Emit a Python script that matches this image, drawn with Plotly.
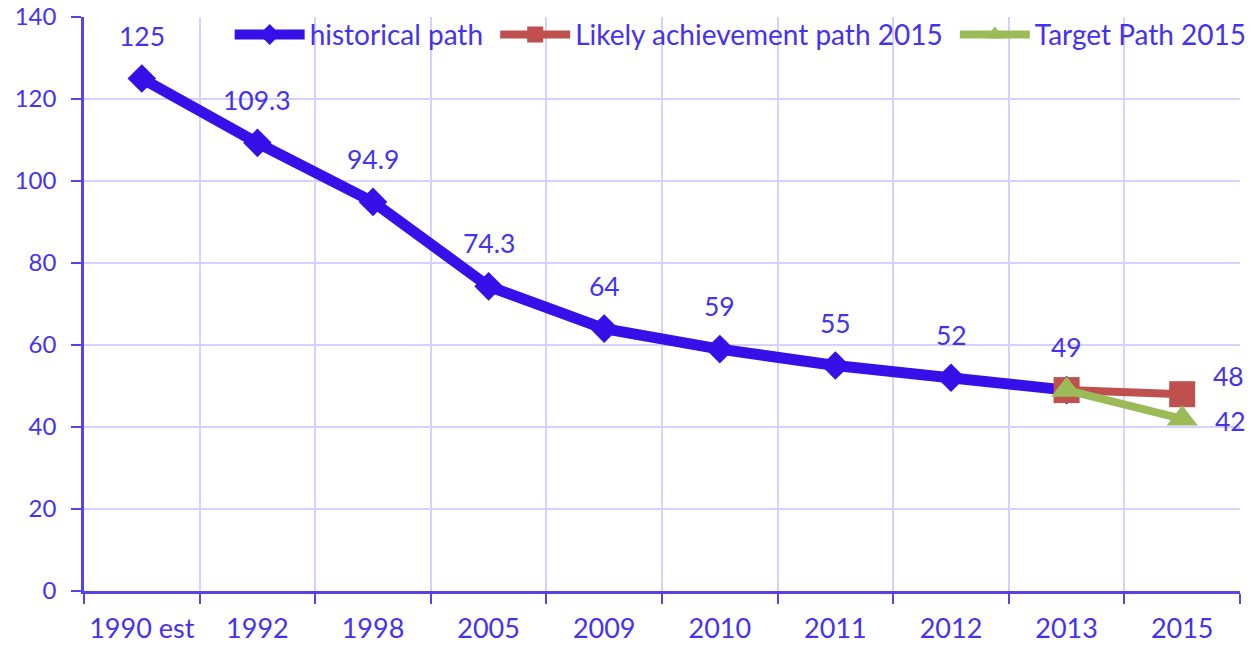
import plotly.graph_objects as go

# categories and series values
years = ["1990 est", "1992", "1998", "2005", "2009", "2010", "2011", "2012", "2013", "2015"]
historical = [125, 109.3, 94.9, 74.3, 64, 59, 55, 52, 49]
likely_years = ["2013", "2015"]
likely = [49, 48]
target_years = ["2013", "2015"]
target = [49, 42]

blue = "#3510E8"
text_blue = "#4433EE"
red = "#C0504D"
green = "#9BBB59"
grid = "#D8D0FF"
axis_col = "#5544EE"
font = "Lato, Noto Sans, sans-serif"
pad = "\u00a0"  # a little room after each legend entry

fig = go.Figure()

fig.add_trace(go.Scatter(
    x=years[:len(historical)], y=historical, name="historical path" + pad,
    mode="lines+markers",
    line=dict(color=blue, width=11),
    marker=dict(symbol="diamond", size=22, color=blue),
))
fig.add_trace(go.Scatter(
    x=likely_years, y=likely, name="Likely achievement path 2015" + pad,
    mode="lines+markers",
    line=dict(color=red, width=8),
    marker=dict(symbol="square", size=26, color=red),
))
fig.add_trace(go.Scatter(
    x=target_years, y=target, name="Target Path 2015",
    mode="lines+markers",
    line=dict(color=green, width=8),
    marker=dict(symbol="triangle-up", size=27, color=green),
))

# data labels (x given as category index)
label_font = dict(size=26.5, color=text_blue, family=font)
for i, y in enumerate(historical):
    fig.add_annotation(x=i, y=y, text=str(y), showarrow=False, yshift=43, font=label_font)
fig.add_annotation(x=years.index(likely_years[-1]), y=likely[-1], text=str(likely[-1]),
                   showarrow=False, xshift=46, yshift=18, font=label_font)
fig.add_annotation(x=years.index(target_years[-1]), y=target[-1], text=str(target[-1]),
                   showarrow=False, xshift=48, yshift=-2, font=label_font)

# page body has an 8px margin, so the figure is shrunk by that amount
fig.update_layout(
    width=1251, height=640,
    margin=dict(l=76, r=19, t=9, b=57, autoexpand=False),
    plot_bgcolor="white", paper_bgcolor="white",
    font=dict(family=font, size=25, color=text_blue),
    showlegend=True,
    legend=dict(orientation="h", x=0.126, y=0.969, xanchor="left", yanchor="middle",
                bgcolor="rgba(0,0,0,0)", font=dict(size=28, color=text_blue),
                itemwidth=70, tracegroupgap=0),
    hovermode=False,
)
fig.update_xaxes(
    type="category", categoryorder="array", categoryarray=years,
    tickson="boundaries", ticks="outside", ticklen=10, tickcolor=axis_col, tickwidth=2,
    showgrid=True, gridcolor=grid, gridwidth=1.5,
    showline=True, linecolor=axis_col, linewidth=2.5,
    range=[-0.5, len(years) - 0.5],
    tickangle=0, ticklabeloverflow="allow",
    tickfont=dict(size=27, color=text_blue), ticklabelstandoff=12,
)
fig.update_yaxes(
    range=[0, 140], dtick=20, ticks="outside", ticklen=10, tickcolor=axis_col, tickwidth=2,
    showgrid=True, gridcolor=grid, gridwidth=1.5,
    showline=True, linecolor=axis_col, linewidth=2.5, zeroline=False,
    ticklabeloverflow="allow",
    tickfont=dict(size=24, color=text_blue), ticklabelstandoff=10,
)

fig.write_html("out.html")
